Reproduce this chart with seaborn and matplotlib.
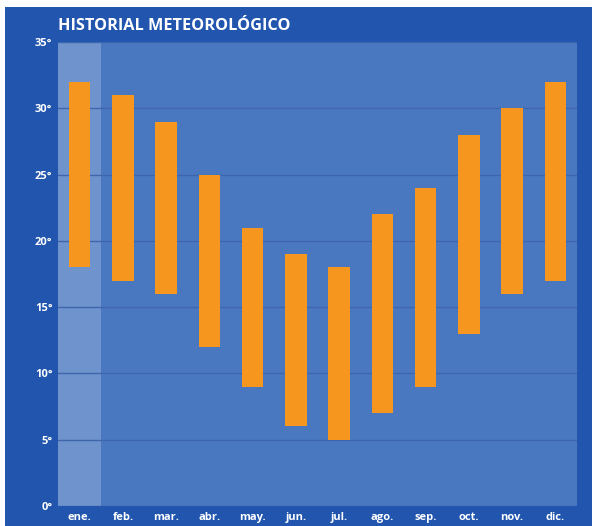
import pandas as pd
import numpy as np
import seaborn as sns
import matplotlib.pyplot as plt
from matplotlib.patches import Rectangle

# monthly min / max temperatures
months = ['ene.', 'feb.', 'mar.', 'abr.', 'may.', 'jun.', 'jul.', 'ago.', 'sep.', 'oct.', 'nov.', 'dic.']
t_min = [18, 17, 16, 12, 9, 6, 5, 7, 9, 13, 16, 17]
t_max = [32, 31, 29, 25, 21, 19, 18, 22, 24, 28, 30, 32]
y_ticks = [0, 5, 10, 15, 20, 25, 30, 35]

df = pd.DataFrame({'mes': months, 'min': t_min, 'max': t_max})
df['rango'] = df['max'] - df['min']

bg = '#2155ae'
panel = '#4a78c0'
hl = '#6f93cc'
orange = '#f7961e'

sns.set_style('white')
plt.rcParams['font.family'] = ['Open Sans', 'DejaVu Sans']

fig = plt.figure(figsize=(5.92, 5.26), dpi=100, facecolor='white')
fig.patches.append(Rectangle((5 / 592, 0), 1 - 5 / 592, 519 / 526, transform=fig.transFigure,
                             facecolor=bg, edgecolor='none', zorder=-10))
ax = fig.add_axes([58 / 592, 20 / 526, 519 / 592, 464 / 526])
ax.set_facecolor(panel)

# highlight on first month
ax.axvspan(-0.5, 0.5, color=hl, zorder=0.5, lw=0)

sns.barplot(data=df, x='mes', y='rango', bottom=df['min'], color=orange, width=0.5,
            saturation=1, linewidth=0, ax=ax, zorder=2)

ax.set_ylim(0, 35)
ax.set_xlim(-0.5, 11.5)
ax.set_yticks(y_ticks)
ax.set_yticklabels([f'{v}°' for v in y_ticks])
ax.yaxis.grid(True, color='#3e66ad', lw=1)
ax.set_axisbelow(True)
ax.set_xlabel('')
ax.set_ylabel('')
for s in ax.spines.values():
    s.set_visible(False)
ax.tick_params(axis='both', length=0, colors='white', labelsize=8)
ax.tick_params(axis='y', pad=4)
ax.tick_params(axis='x', pad=4)
for lab in ax.get_xticklabels() + ax.get_yticklabels():
    lab.set_fontweight('bold')

fig.text(58 / 592, 1 - 26 / 526, 'HISTORIAL METEOROLÓGICO', color='white', fontsize=11.7,
         fontweight='bold', va='center', ha='left')

fig.savefig('out.png', dpi=100, facecolor='white')
